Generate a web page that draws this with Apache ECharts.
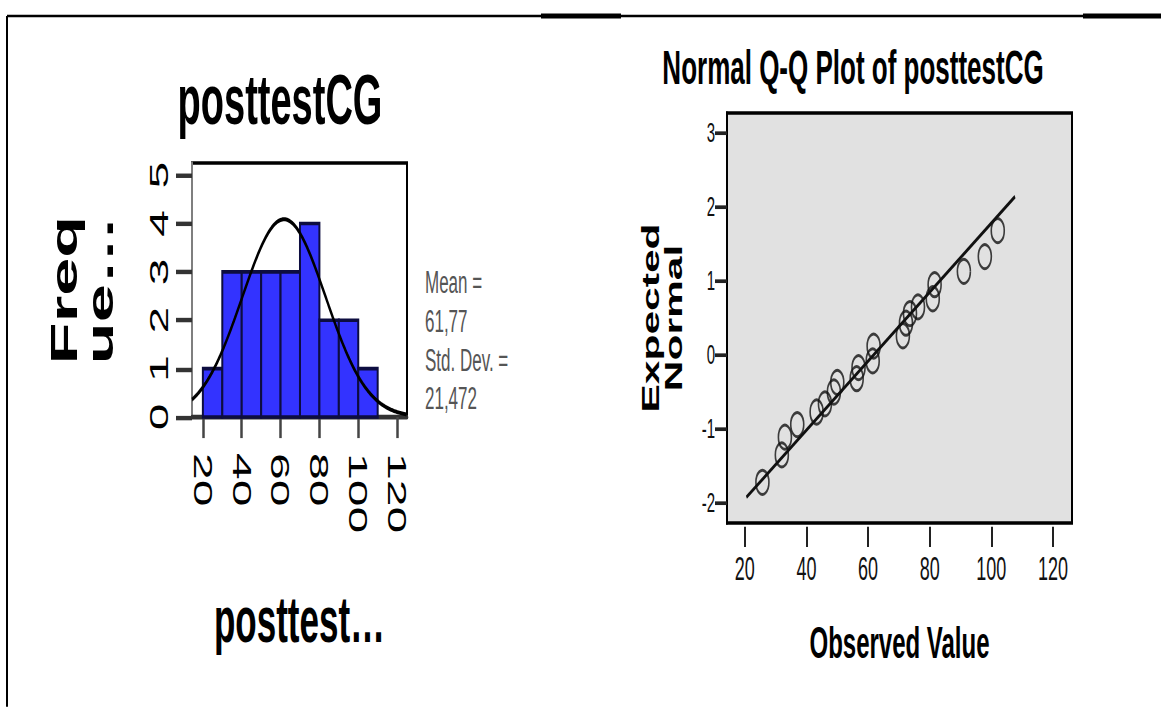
<!DOCTYPE html>
<html>
<head>
<meta charset="utf-8">
<script src="https://cdn.jsdelivr.net/npm/echarts@6/dist/echarts.min.js"></script>
<style>
  html, body { margin: 0; padding: 0; background: #fff; width: 1161px; height: 707px; }
  html { overflow: hidden; }
  /* SPSS-style output: the whole sheet is drawn at a reduced height and stretched vertically */
  #chart { width: 1161px; height: 382.16px; transform: scaleY(1.85); transform-origin: 0 0; }
</style>
</head>
<body>
<div id="chart"></div>
<script>
// ---- Histogram of posttestCG ----
const BIN_START = [20, 30, 40, 50, 60, 70, 80, 90, 100];
const BIN_WIDTH = 10;
const BIN_COUNTS = [1, 3, 3, 3, 3, 4, 2, 2, 1];
const HIST_X_TICKS = [20, 40, 60, 80, 100, 120];
const HIST_Y_TICKS = [0, 1, 2, 3, 4, 5];
const MEAN = 61.77;
const SD = 21.472;
const N = 22;

// ---- Normal Q-Q plot of posttestCG ----
const QQ_OBSERVED = [25.7, 32.0, 33.0, 37.0, 43.3, 46.0, 48.9, 50.0, 56.3, 56.9, 61.5, 61.8,
                     71.3, 72.3, 73.6, 76.2, 81.0, 81.6, 91.1, 97.9, 102.1];
const QQ_EXPECTED = [-1.72, -1.35, -1.11, -0.94, -0.77, -0.66, -0.50, -0.37, -0.32, -0.17, -0.08, 0.12,
                     0.26, 0.43, 0.56, 0.65, 0.76, 0.95, 1.13, 1.33, 1.68];
const QQ_X_TICKS = [20, 40, 60, 80, 100, 120];
const QQ_Y_TICKS = [-2, -1, 0, 1, 2, 3];
const QQ_LINE_X = [20.5, 107.7];

const S = 1.85;                 // vertical stretch of the sheet
const py = v => v / S;          // page y -> chart y
const FONT = "'Liberation Sans', Arial, sans-serif";

// fitted normal density scaled to counts (n * bin width), from the reported mean and SD
const HIST_MIN = 14.4, HIST_MAX = 125.1;
const curve = [];
for (let x = HIST_MIN; x <= HIST_MAX + 1e-9; x += 0.5) {
  const z = (x - MEAN) / SD;
  curve.push([x, N * BIN_WIDTH * Math.exp(-0.5 * z * z) / (SD * Math.sqrt(2 * Math.PI))]);
}
const bins = BIN_START.map((s, i) => [s, s + BIN_WIDTH, BIN_COUNTS[i]]);
const qqPoints = QQ_OBSERVED.map((x, i) => [x, QQ_EXPECTED[i]]);
const qqLine = QQ_LINE_X.map(x => [x, (x - MEAN) / SD]);
const fmt = (v, d) => v.toFixed(d).replace('.', ',');

const chart = echarts.init(document.getElementById('chart'), null, { renderer: 'svg' });
chart.setOption({
  animation: false,
  backgroundColor: '#fff',
  textStyle: { fontFamily: FONT },
  grid: [
    { left: 192, top: py(163), width: 215, height: py(254), show: true,
      borderColor: '#000', borderWidth: 2, backgroundColor: '#fff', outerBoundsMode: 'none' },
    { left: 727, top: py(113), width: 345, height: py(410), show: true,
      borderColor: '#000', borderWidth: 2, backgroundColor: '#e1e1e1', outerBoundsMode: 'none' }
  ],
  xAxis: [
    { gridIndex: 0, type: 'value', min: HIST_MIN, max: HIST_MAX,
      axisLine: { show: true, onZero: false, lineStyle: { color: '#333', width: 2.5 } },
      axisTick: { show: true, customValues: HIST_X_TICKS, length: 11.4, lineStyle: { color: '#444', width: 2.5 } },
      axisLabel: { customValues: HIST_X_TICKS, rotate: -90, fontSize: 26, color: '#000', margin: 19.5, fontFamily: FONT },
      splitLine: { show: false },
      name: 'posttest…', nameLocation: 'middle', nameGap: 92, nameMoveOverlap: false,
      nameTextStyle: { fontSize: 35, fontWeight: 'bold', color: '#000', fontFamily: FONT } },
    { gridIndex: 1, type: 'value', min: 14.2, max: 126.2, offset: 2,
      axisLine: { show: false, onZero: false },
      axisTick: { show: true, customValues: QQ_X_TICKS, length: 11, lineStyle: { color: '#222', width: 2 } },
      axisLabel: { customValues: QQ_X_TICKS, fontSize: 18, color: '#111', margin: 14, fontFamily: FONT },
      splitLine: { show: false },
      name: 'Observed Value', nameLocation: 'middle', nameGap: 51, nameMoveOverlap: false,
      nameTextStyle: { fontSize: 24, fontWeight: 'bold', color: '#000', fontFamily: FONT } }
  ],
  yAxis: [
    { gridIndex: 0, type: 'value', min: 0, max: 5.25,
      axisLine: { show: true, onZero: false, lineStyle: { color: '#aaa', width: 1.5 } },
      axisTick: { show: true, customValues: HIST_Y_TICKS, length: 16, lineStyle: { color: '#333', width: 2.4 } },
      axisLabel: { customValues: HIST_Y_TICKS, rotate: 90, fontSize: 26, color: '#000', margin: 20, fontFamily: FONT },
      splitLine: { show: false },
      name: 'Freq\nue…', nameLocation: 'middle', nameGap: 74, nameMoveOverlap: false,
      nameTextStyle: { fontSize: 37, fontWeight: 'bold', lineHeight: 36, color: '#000', fontFamily: FONT } },
    { gridIndex: 1, type: 'value', min: -2.27, max: 3.27,
      axisLine: { show: true, onZero: false, lineStyle: { color: '#000', width: 2 } },
      axisTick: { show: true, customValues: QQ_Y_TICKS, length: 12, lineStyle: { color: '#222', width: 2 } },
      axisLabel: { customValues: QQ_Y_TICKS, fontSize: 15, color: '#111', margin: 12, fontFamily: FONT },
      splitLine: { show: false },
      name: 'Expected\nNormal', nameLocation: 'middle', nameGap: 41.5, nameMoveOverlap: false,
      nameTextStyle: { fontSize: 23, fontWeight: 'bold', lineHeight: 23, color: '#000', fontFamily: FONT } }
  ],
  series: [
    { type: 'custom', xAxisIndex: 0, yAxisIndex: 0, data: bins, encode: { x: [0, 1], y: 2 },
      renderItem: (params, api) => {
        const p0 = api.coord([api.value(0), api.value(2)]);
        const p1 = api.coord([api.value(1), 0]);
        return { type: 'rect',
          shape: { x: p0[0], y: p0[1], width: p1[0] - p0[0], height: p1[1] - p0[1] },
          style: { fill: '#3333ff', stroke: '#0d0d40', lineWidth: 2 } };
      } },
    { type: 'line', xAxisIndex: 0, yAxisIndex: 0, data: curve, showSymbol: false, silent: true, z: 5,
      lineStyle: { color: '#000', width: 2.2 } },
    { type: 'line', xAxisIndex: 1, yAxisIndex: 1, data: qqLine, showSymbol: false, silent: true,
      lineStyle: { color: '#111', width: 2 } },
    { type: 'scatter', xAxisIndex: 1, yAxisIndex: 1, data: qqPoints, symbol: 'circle', symbolSize: 13,
      itemStyle: { color: 'rgba(0,0,0,0)', borderColor: '#111', borderWidth: 1.6 } }
  ],
  graphic: [
    { type: 'line', shape: { x1: 7, y1: py(16), x2: 1161, y2: py(16) }, style: { stroke: '#000', lineWidth: 1.3 } },
    { type: 'rect', shape: { x: 541, y: py(13.5), width: 80, height: py(5) }, style: { fill: '#000' } },
    { type: 'rect', shape: { x: 1083, y: py(13.5), width: 78, height: py(5) }, style: { fill: '#000' } },
    { type: 'line', shape: { x1: 7, y1: py(16), x2: 7, y2: py(707) }, style: { stroke: '#000', lineWidth: 2 } },
    { type: 'text', x: 280, y: py(99.5),
      style: { text: 'posttestCG', fontSize: 38, fontWeight: 'bold', fontFamily: FONT, fill: '#000',
               textAlign: 'center', textVerticalAlign: 'middle', align: 'center', verticalAlign: 'middle' } },
    { type: 'text', x: 853, y: py(67.5),
      style: { text: 'Normal Q-Q Plot of posttestCG', fontSize: 26, fontWeight: 'bold', fontFamily: FONT, fill: '#000',
               textAlign: 'center', textVerticalAlign: 'middle', align: 'center', verticalAlign: 'middle' } },
    { type: 'text', x: 425, y: 141.8,
      style: { text: 'Mean =\n' + fmt(MEAN, 2) + '\nStd. Dev. =\n' + fmt(SD, 3),
               fontSize: 17, lineHeight: 21, fontFamily: FONT, fill: '#555',
               textAlign: 'left', textVerticalAlign: 'top', align: 'left', verticalAlign: 'top' } }
  ]
});
</script>
</body>
</html>
